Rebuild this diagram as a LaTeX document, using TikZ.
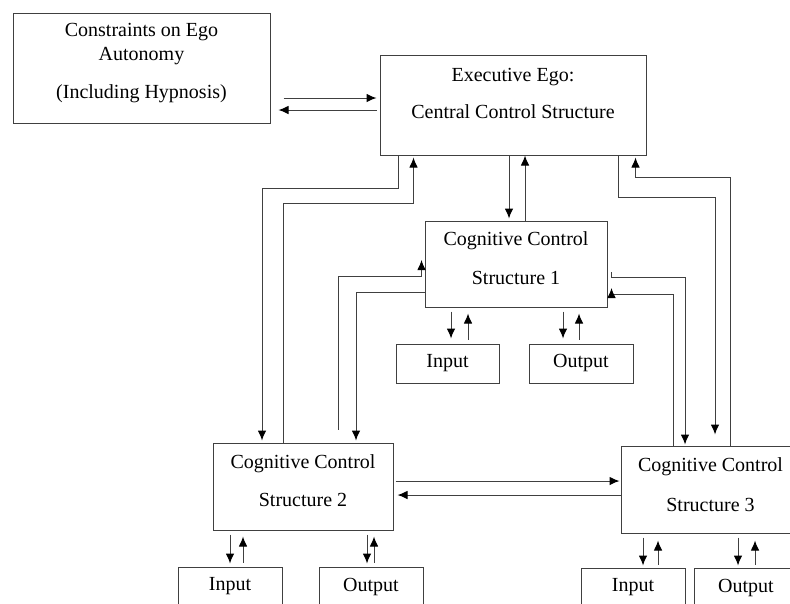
\documentclass[tikz,border=0pt]{standalone}
\usepackage{fontspec}
\setmainfont{Liberation Serif}
\usetikzlibrary{calc,arrows.meta}
\tikzset{>={Latex[length=10pt,width=8.5pt,color=black]}}

\begin{document}
\begin{tikzpicture}[x=1pt,y=-1pt,font=\fontsize{20}{24}\selectfont,
  box/.style={draw=black!75,line width=1pt,inner sep=0pt},
  small/.style={box,minimum width=104pt,minimum height=39pt},
  link/.style={->,line width=1pt,draw=black!75}]
\useasboundingbox (0,0) rectangle (790,603);
% main boxes
\node[box,minimum width=257pt,minimum height=110pt,
  label={[align=center,yshift=4.5pt]center:{Constraints on Ego\\Autonomy\\[14pt](Including Hypnosis)}}] (cons) at (141.5,68) {};
\node[box,minimum width=266pt,minimum height=100pt,
  label={[align=center,yshift=11.5pt]center:{Executive Ego:\\[13pt]Central Control Structure}}] (exec) at (513,105) {};
\node[box,minimum width=182pt,minimum height=86pt,
  label={[align=center,yshift=5.5pt]center:{Cognitive Control\\[15pt]Structure 1}}] (c1) at (516,264) {};
\node[box,minimum width=180pt,minimum height=87pt,
  label={[align=center,yshift=5.5pt]center:{Cognitive Control\\[14pt]Structure 2}}] (c2) at (303,486.5) {};
\node[box,minimum width=179pt,minimum height=87pt,
  label={[align=center,yshift=4.5pt]center:{Cognitive Control\\[16pt]Structure 3}}] (c3) at (710.5,489.5) {};
% input and output boxes
\node[small,minimum width=103pt] (in1) at (447.5,363.5) {Input};
\node[small] (out1) at (581,363.5) {Output};
\node[small] (in2) at (230,586.5) {Input};
\node[small] (out2) at (371,586.5) {Output};
\node[small] (in3) at (633,587.5) {Input};
\node[small] (out3) at (746,587.5) {Output};

% constraints <-> executive ego
\draw[link] ($(cons.east)+(13,30)$) -- ($(exec.west)+(-3,-7)$);
\draw[link] ($(exec.west)+(-3,5)$) -- ($(cons.east)+(8,42)$);
% executive ego <-> structure 1
\draw[link] ($(exec.south)+(-4,0)$) -- ($(c1.north)+(-7,-2)$);
\draw[link] ($(c1.north)+(9,0)$) -- ($(exec.south)+(12,0)$);
% executive ego <-> structure 2
\draw[link] ($(exec.south west)+(19,0)$) -- ++(0,33) -| ($(c2.north)+(-41,-2)$);
\draw[link] ($(c2.north)+(-20,0)$) -- ++(0,-239) -| ($(exec.south west)+(34,2)$);
% structure 1 <-> structure 2
\draw[link] ($(c2.north)+(35,-13)$) -- ++(0,-153) -| ($(c1.west)+(-3,-4)$);
\draw[link] ($(c1.west)+(1,13)$) -- ++(0,15) -| ($(c2.north)+(53,-2)$);
% executive ego <-> structure 3
\draw[link] ($(exec.south east)+(-28,0)$) -- ++(0,42) -| ($(c3.north)+(4.5,-11)$);
\draw[link] ($(c3.north)+(19.5,0)$) -- ++(0,-268) -| ($(exec.south east)+(-11,2)$);
% structure 1 <-> structure 3
\draw[link] ($(c1.east)+(4,8)$) -- ++(0,5) -| ($(c3.north)+(-25.5,-1)$);
\draw[link] ($(c3.north)+(-37.5,0)$) -- ++(0,-151) -| ($(c1.east)+(4,24)$);
% structure 2 <-> structure 3
\draw[link] ($(c2.east)+(2,-5.5)$) -- ($(c3.west)+(-1,-8.5)$);
\draw[link] ($(c3.west)+(0,5.5)$) -- ($(c2.east)+(4,8.5)$);

% inputs and outputs
\draw[link] ($(in1.north)+(3.5,-32)$) -- ++(0,27);
\draw[link] ($(in1.north)+(20.5,-4)$) -- ++(0,-26);
\draw[link] ($(out1.north)+(-18,-32)$) -- ++(0,27);
\draw[link] ($(out1.north)+(-2,-4)$) -- ++(0,-26);
\draw[link] ($(in2.north)+(0,-32)$) -- ++(0,29);
\draw[link] ($(in2.north)+(13,-4)$) -- ++(0,-26);
\draw[link] ($(out2.north)+(-4,-32)$) -- ++(0,29);
\draw[link] ($(out2.north)+(3,-4)$) -- ++(0,-26);
\draw[link] ($(in3.north)+(10,-30)$) -- ++(0,28);
\draw[link] ($(in3.north)+(25,-3)$) -- ++(0,-24);
\draw[link] ($(out3.north)+(-8,-30)$) -- ++(0,28);
\draw[link] ($(out3.north)+(9,-3)$) -- ++(0,-24);
\end{tikzpicture}
\end{document}
